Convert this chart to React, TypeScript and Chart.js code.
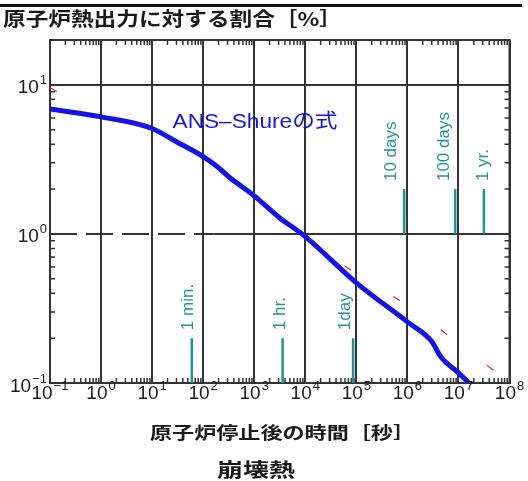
import { useEffect, useRef } from "react";
import { Chart, registerables } from "chart.js";

Chart.register(...registerables);

// ---- data ----
const X_EXPONENTS = [-1, 0, 1, 2, 3, 4, 5, 6, 7, 8];
const Y_EXPONENTS = [-1, 0, 1];
const Y_MIN = 0.1;
const Y_MAX = 20;
const X_MIN = 0.1;
const X_MAX = 1e8;

const ANS_TIME = [0.1, 1, 10, 30, 100, 190, 316, 1000, 3000, 1e4, 1e5, 1e6, 3e6, 4.5e6, 1e7, 1.6e7];
const ANS_HEAT = [6.9, 6.1, 5.1, 4.15, 3.3, 2.82, 2.42, 1.8, 1.3, 0.96, 0.47, 0.257, 0.19, 0.15, 0.117, 0.1];

const REF_TIME = [0.1, 1, 10, 100, 1000, 1e4, 1e5, 1e6, 1e7, 1e8];
const REF_HEAT = [9.6, 6.1, 5.1, 3.25, 1.75, 0.95, 0.54, 0.33, 0.185, 0.1];

const MARK_LABELS = ["1 min.", "1 hr.", "1day", "10 days", "100 days", "1 yr."];
const MARK_TIME = [60, 3600, 86400, 864000, 8640000, 31536000];
const MARK_LOW = [0.1, 0.1, 0.1, 1, 1, 1];
const MARK_HIGH = [0.2, 0.2, 0.2, 2, 2, 2];

const TITLE_Y = "原子炉熱出力に対する割合［%］";
const TITLE_X = "原子炉停止後の時間［秒］";
const CAPTION = "崩壊熱";
const CURVE_LABEL = "ANS–Shureの式";

// ---- styles ----
const GRID = "#333333";
const BLUE = "#1414e6";
const RED = "#e0201e";
const TEAL = "#1e968c";
const MARK_LABEL_SHIFT = [4, 2.5, 8, 13, 11, 1];
const CJK = '"Noto Sans CJK JP", "Noto Sans", sans-serif';
const LATIN = '"Liberation Sans", Arial, "Noto Sans CJK JP", sans-serif';

function fitText(
  ctx: CanvasRenderingContext2D,
  text: string,
  left: number,
  right: number,
  cy: number,
  font: string,
  color: string
) {
  ctx.save();
  ctx.font = font;
  ctx.fillStyle = color;
  ctx.textAlign = "left";
  ctx.textBaseline = "middle";
  const w = ctx.measureText(text).width;
  const sx = (right - left) / w;
  ctx.translate(left, cy);
  ctx.scale(sx, 1);
  ctx.fillText(text, 0, 0);
  ctx.restore();
}

function drawPow(
  ctx: CanvasRenderingContext2D,
  exp: number,
  x: number,
  baseY: number,
  align: "center" | "right"
) {
  const base = "10";
  const sup = exp < 0 ? "−" + String(-exp) : String(exp);
  const BF = `19px ${LATIN}`;
  const SF = `13px ${LATIN}`;
  ctx.font = BF;
  const wb = ctx.measureText(base).width;
  ctx.font = SF;
  const ws = ctx.measureText(sup).width;
  const gap = 1;
  const total = wb + gap + ws;
  const x0 = align === "center" ? x - total / 2 : x - total;
  ctx.textAlign = "left";
  ctx.textBaseline = "alphabetic";
  ctx.fillStyle = "#1a1a1a";
  ctx.font = BF;
  ctx.fillText(base, x0, baseY);
  ctx.font = SF;
  ctx.fillText(sup, x0 + wb + gap, baseY - 9);
}

const decorPlugin = {
  id: "decor",
  beforeDatasetsDraw(chart: any) {
    const ctx: CanvasRenderingContext2D = chart.ctx;
    const { left, right, top, bottom } = chart.chartArea;
    const xs = chart.scales.x;
    const ys = chart.scales.y;
    ctx.save();
    // 10^0 horizontal line: dashed on the left part, solid on the right
    const y1 = ys.getPixelForValue(1);
    const xSplit = xs.getPixelForValue(Math.pow(10, 2.2));
    ctx.strokeStyle = GRID;
    ctx.lineWidth = 2;
    ctx.setLineDash([27, 9]);
    ctx.beginPath();
    ctx.moveTo(left, y1);
    ctx.lineTo(xSplit, y1);
    ctx.stroke();
    ctx.setLineDash([]);
    ctx.beginPath();
    ctx.moveTo(xSplit, y1);
    ctx.lineTo(right, y1);
    ctx.stroke();

    // minor ticks (inside)
    ctx.lineWidth = 1.5;
    const TL = 5;
    ctx.beginPath();
    for (let d = -1; d < 8; d++) {
      for (let m = 2; m <= 9; m++) {
        const px = xs.getPixelForValue(m * Math.pow(10, d));
        ctx.moveTo(px, bottom);
        ctx.lineTo(px, bottom - TL);
        ctx.moveTo(px, top);
        ctx.lineTo(px, top + TL);
      }
    }
    for (let d = -1; d < 2; d++) {
      for (let m = 2; m <= 9; m++) {
        const v = m * Math.pow(10, d);
        if (v >= Y_MAX) continue;
        const py = ys.getPixelForValue(v);
        ctx.moveTo(left, py);
        ctx.lineTo(left + TL, py);
        ctx.moveTo(right, py);
        ctx.lineTo(right - TL, py);
      }
    }
    ctx.stroke();
    // frame
    ctx.lineWidth = 2;
    ctx.strokeRect(left, top, right - left, bottom - top);
    ctx.restore();
  },
  afterDraw(chart: any) {
    const ctx: CanvasRenderingContext2D = chart.ctx;
    const { left, bottom } = chart.chartArea;
    const xs = chart.scales.x;
    const ys = chart.scales.y;
    ctx.save();
    // top rule
    ctx.fillStyle = "#111";
    ctx.fillRect(0, 4, 522, 3);

    // tick labels
    X_EXPONENTS.forEach((e) => {
      drawPow(ctx, e, xs.getPixelForValue(Math.pow(10, e)), bottom + 16, "center");
    });
    Y_EXPONENTS.forEach((e) => {
      drawPow(ctx, e, left - 3, ys.getPixelForValue(Math.pow(10, e)) + 8.5, "right");
    });

    // texts
    fitText(ctx, TITLE_Y, 3, 342, 18.5, `600 19px ${CJK}`, "#1a1a1a");
    fitText(ctx, TITLE_X, 150, 415, 432.5, `600 17px ${CJK}`, "#1a1a1a");
    fitText(ctx, CAPTION, 217, 295, 470, `600 19px ${CJK}`, "#1a1a1a");
    fitText(
      ctx,
      CURVE_LABEL,
      xs.getPixelForValue(Math.pow(10, 1.4)),
      xs.getPixelForValue(Math.pow(10, 4.63)),
      ys.getPixelForValue(Math.pow(10, 0.75)),
      `20px ${LATIN}`,
      BLUE
    );

    // marker labels (rotated)
    ctx.font = `17px ${LATIN}`;
    ctx.fillStyle = TEAL;
    ctx.textAlign = "left";
    ctx.textBaseline = "middle";
    MARK_LABELS.forEach((lab, i) => {
      const px = xs.getPixelForValue(MARK_TIME[i]) - MARK_LABEL_SHIFT[i];
      const py = ys.getPixelForValue(MARK_HIGH[i]) - 8;
      ctx.save();
      ctx.translate(px, py);
      ctx.rotate(-Math.PI / 2);
      ctx.fillText(lab, 0, 0);
      ctx.restore();
    });
    ctx.restore();
  },
};

export default function App() {
  const ref = useRef<HTMLCanvasElement | null>(null);
  useEffect(() => {
    if (!ref.current) return;
    const markerSets = MARK_TIME.map((t, i) => ({
      label: MARK_LABELS[i],
      data: [
        { x: t, y: MARK_LOW[i] },
        { x: t, y: MARK_HIGH[i] },
      ],
      borderColor: TEAL,
      borderWidth: 2.5,
      pointRadius: 0,
      showLine: true,
    }));
    const chart = new Chart(ref.current, {
      type: "line",
      data: {
        datasets: [
          {
            label: CURVE_LABEL,
            data: ANS_TIME.map((t, i) => ({ x: t, y: ANS_HEAT[i] })),
            borderColor: BLUE,
            borderWidth: 5,
            pointRadius: 0,
            cubicInterpolationMode: "monotone",
          },
          {
            label: "ref",
            data: REF_TIME.map((t, i) => ({ x: t, y: REF_HEAT[i] })),
            borderColor: RED,
            borderWidth: 1.2,
            borderDash: [8, 50],
            pointRadius: 0,
            cubicInterpolationMode: "monotone",
          },
          ...markerSets,
        ] as any,
      },
      options: {
        animation: false,
        responsive: false,
        layout: { padding: { left: 50, top: 40, right: 18.5, bottom: 98 } },
        plugins: {
          legend: { display: false },
          tooltip: { enabled: false },
          title: { display: false },
        },
        scales: {
          x: {
            type: "logarithmic",
            min: X_MIN,
            max: X_MAX,
            afterBuildTicks: (s: any) => {
              s.ticks = X_EXPONENTS.map((e) => ({ value: Math.pow(10, e) }));
            },
            ticks: { display: false },
            grid: { color: GRID, lineWidth: 2, drawTicks: false },
            border: { display: true, color: GRID, width: 2 },
          },
          y: {
            type: "logarithmic",
            min: Y_MIN,
            max: Y_MAX,
            afterBuildTicks: (s: any) => {
              s.ticks = Y_EXPONENTS.map((e) => ({ value: Math.pow(10, e) }));
            },
            ticks: { display: false },
            grid: {
              color: (c: any) => (c.tick && Math.abs(c.tick.value - 1) < 1e-9 ? "rgba(0,0,0,0)" : GRID),
              lineWidth: 2,
              drawTicks: false,
            },
            border: { display: true, color: GRID, width: 2 },
          },
        },
      } as any,
      plugins: [decorPlugin],
    });
    return () => chart.destroy();
  }, []);
  return (
    <canvas
      ref={ref}
      width={528}
      height={481}
      style={{ position: "absolute", left: 0, top: 0, display: "block" }}
    />
  );
}
